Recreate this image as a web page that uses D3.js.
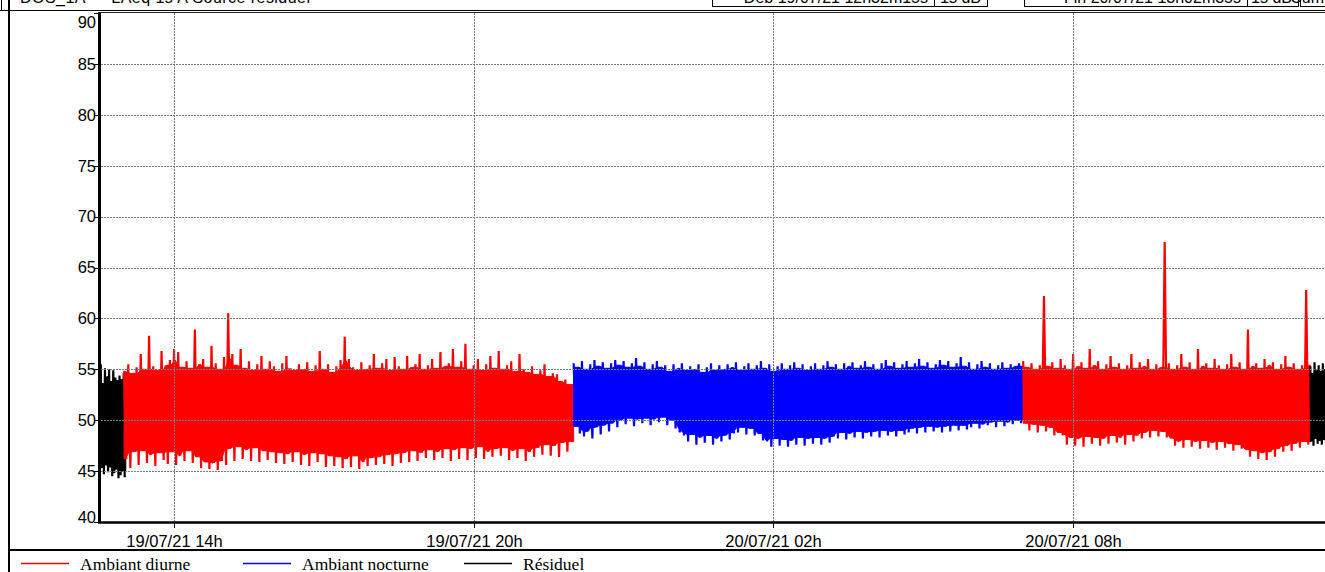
<!DOCTYPE html>
<html><head><meta charset="utf-8">
<script src="https://cdn.jsdelivr.net/npm/d3@7"></script>
<style>html,body{margin:0;padding:0;background:#fff;overflow:hidden}svg{display:block}</style>
</head><body>
<svg id="c" width="1325" height="572"></svg>
<script>
// ---------- data ----------
const yTicks = [40,45,50,55,60,65,70,75,80,85,90];
const xTickTimes = ["2021-07-19T14:00:00","2021-07-19T20:00:00","2021-07-20T02:00:00","2021-07-20T08:00:00"];
const xTickLabels = ["19/07/21 14h","19/07/21 20h","20/07/21 02h","20/07/21 08h"];
const xDomain = ["2021-07-19T12:32:15","2021-07-20T13:02:35"];
const legendLabels = ["Ambiant diurne","Ambiant nocturne","Résiduel"];
const headerLeft = "DOS_1A  —  LAeq 1s A   Source résiduel";
const headerRight = ["Déb 19/07/21 12h32m15s","1s dB","Fin 20/07/21 13h02m35s","1s dB","Cum"];

// Résiduel (before)
const residuel1Start = "2021-07-19T12:32:00", residuel1Step = 2.5;
const residuel1Hi = [55.5,53.6,55.1,54.3,55.0,53.8,54.9,54.2,53.9,54.4,54.0,54.6];
const residuel1Lo = [45.3,44.7,45.6,44.9,45.4,44.5,44.8,45.2,44.3,44.6,45.0,44.4];

// Ambiant diurne (day 1)
const diurne1Start = "2021-07-19T13:00:00", diurne1Step = 5;
const diurne1Hi = [54.8,55.5,54.6,55.2,56.5,55.0,58.3,55.3,54.9,56.8,
  55.4,55.9,57.0,56.7,55.2,55.8,55.1,58.9,55.5,56.0,
  55.2,57.3,55.6,55.0,56.2,60.5,56.5,55.4,57.0,55.1,
  55.8,54.9,55.5,56.3,55.0,55.8,55.3,54.8,55.6,56.3,
  55.1,54.9,55.5,55.0,55.7,54.8,55.4,56.8,55.0,55.5,
  54.7,55.3,55.9,58.2,56.0,55.2,54.9,55.7,55.0,55.4,
  56.5,55.1,55.6,56.0,54.9,56.2,55.3,55.0,56.3,55.2,
  55.5,56.5,55.0,55.4,56.0,55.1,56.7,55.3,55.6,57.0,
  55.2,55.8,57.5,55.0,55.4,56.0,54.9,55.5,56.3,55.1,
  56.8,55.0,55.4,55.8,54.8,56.5,55.0,54.7,55.3,54.5,
  54.9,55.5,54.3,54.6,54.5,53.8,54.0,53.5];
const diurne1Lo = [46.2,45.3,46.9,45.6,47.0,45.8,46.6,45.5,46.8,46.1,
  45.7,46.9,45.6,46.5,46.0,47.0,45.8,46.4,45.3,45.9,
  45.2,45.8,45.1,46.0,45.6,47.2,46.0,47.4,46.2,47.1,
  46.0,47.3,45.9,47.0,46.1,46.9,45.8,46.8,45.7,46.7,
  45.9,46.9,45.6,46.6,45.5,46.8,45.9,46.7,45.4,46.5,
  45.5,46.4,45.3,46.2,45.4,46.5,45.2,45.9,45.5,46.3,
  45.6,46.4,45.7,46.6,45.5,46.7,45.8,46.8,45.9,47.0,
  46.0,46.8,46.3,47.1,46.1,46.9,46.3,47.2,46.0,47.1,
  46.2,47.3,46.1,47.2,46.3,47.4,46.2,46.9,46.4,47.2,
  46.5,47.3,46.1,47.0,46.3,47.2,46.0,46.9,46.4,47.3,
  46.6,47.6,46.5,47.5,46.4,47.8,46.9,47.9];

// Ambiant nocturne
const nocturneStart = "2021-07-19T22:00:00", nocturneStep = 5;
const nocturneHi = [55.6,55.2,55.8,55.0,55.5,55.9,55.3,55.7,55.1,55.6,
  55.9,55.4,55.8,55.2,55.6,56.1,55.3,55.7,55.0,55.5,
  55.8,55.2,55.4,54.8,55.5,55.1,55.6,54.9,55.3,55.0,
  55.5,54.7,55.2,55.6,54.9,55.4,55.0,55.5,55.2,55.7,
  54.9,55.3,55.6,55.0,55.4,55.8,55.1,55.5,54.8,55.3,
  55.6,55.0,55.4,55.7,55.1,55.5,54.9,55.3,55.6,55.0,
  55.4,55.8,55.2,55.5,55.0,55.6,55.3,55.7,55.1,55.4,
  55.8,55.2,55.5,55.0,55.6,55.9,55.3,55.7,55.1,55.5,
  55.8,55.2,55.6,56.0,55.3,55.7,55.1,55.5,55.9,55.4,
  55.8,55.2,55.6,56.2,55.3,55.7,55.0,55.5,55.8,55.2,
  55.6,55.0,55.4,55.7,55.1,55.5,55.3,55.6];
const nocturneLo = [49.4,48.7,48.4,48.9,48.2,49.3,48.6,49.5,
  48.9,49.7,49.3,50.0,49.6,50.2,49.4,50.1,49.7,50.2,
  49.5,50.1,49.8,50.3,49.5,50.0,49.2,48.8,
  48.5,47.9,48.6,47.6,48.3,47.8,48.5,47.6,48.2,47.9,48.5,48.1,48.7,
  48.8,49.3,48.6,49.2,48.5,48.7,48.0,
  47.9,47.4,48.2,47.5,48.1,47.4,48.0,47.6,48.3,47.5,48.2,47.7,48.3,47.6,48.2,47.8,48.4,
  48.2,48.8,48.1,48.7,48.3,48.9,48.2,48.8,48.4,48.9,48.3,49.0,48.5,48.9,48.4,49.0,48.6,
  48.8,49.2,48.7,49.3,48.8,49.4,48.9,49.3,48.8,49.4,48.9,49.5,49.0,49.5,49.1,
  49.3,49.7,49.2,49.6,49.5,49.8,49.3,49.9,49.4,49.8,49.6,50.0,49.7];

// Ambiant diurne (day 2)
const diurne2Start = "2021-07-20T07:00:00", diurne2Step = 5;
const diurne2Hi = [55.8,55.2,55.6,55.0,55.4,62.2,55.3,55.7,55.1,56.0,
  55.4,55.0,56.5,55.3,55.7,55.1,57.0,55.4,55.8,55.0,
  55.5,56.3,55.2,55.6,55.0,55.4,56.5,55.1,55.7,55.3,
  56.0,55.0,55.5,55.2,67.5,55.6,55.0,55.4,56.5,55.2,
  55.7,55.0,57.0,55.3,55.6,55.1,56.0,55.4,55.0,55.5,
  56.5,55.2,55.7,55.0,58.9,55.3,55.6,55.1,56.0,55.4,
  55.7,55.0,55.5,56.3,55.2,55.6,55.0,55.4,62.8];
const diurne2Lo = [49.7,49.0,49.6,48.8,49.5,48.9,49.3,48.5,48.8,
  48.5,47.6,48.3,47.5,48.2,47.4,48.4,47.7,48.3,47.5,
  48.2,47.7,48.5,47.8,48.3,47.6,48.6,47.9,48.5,48.2,48.8,48.3,
  49.0,48.4,48.9,48.3,
  48.2,47.5,47.9,47.3,48.1,47.4,47.9,47.2,48.0,47.3,47.8,47.1,47.9,47.3,47.7,47.0,47.6,47.2,
  47.1,46.4,47.0,46.2,46.8,46.1,46.9,46.4,
  47.2,46.9,47.5,47.0,47.7,47.3,47.9,47.6];

// Résiduel (after)
const residuel2Start = "2021-07-20T12:45:00", residuel2Step = 2.5;
const residuel2Hi = [55.3,54.6,55.7,54.9,55.4,54.8,55.6,55.0,55.2];
const residuel2Lo = [47.9,47.5,48.2,47.7,48.0,47.6,48.1,47.8,47.9];

// ---------- drawing ----------
const W = 1325, H = 572;
const plot = {left: 101, right: 1325, top: 13, bottom: 522};
const colDiurne = "#ff0000", colNocturne = "#0000ff", colResiduel = "#000000";
const svg = d3.select("#c");
const parse = s => new Date(s);

const x = d3.scaleTime().domain(xDomain.map(parse)).range([plot.left, plot.right]);
const y = d3.scaleLinear().domain([40, 90]).range([plot.bottom, plot.top]);

function zig(start, stepMin, hi, lo) {
  const t0 = parse(start).getTime(), st = stepMin * 60000, pts = [];
  hi.forEach((v, i) => {
    pts.push({t: new Date(t0 + i * st), v: v});
    pts.push({t: new Date(t0 + (i + 0.5) * st), v: lo[i]});
  });
  return pts;
}
// solid core band: for each bin the lowest neighbouring peak and highest neighbouring trough
function core(start, stepMin, hi, lo) {
  const t0 = parse(start).getTime(), st = stepMin * 60000, n = hi.length;
  const pts = hi.map((v, i) => {
    const a = Math.max(0, i - 1), b = Math.min(n, i + 2);
    return {t: new Date(t0 + (i + 0.25) * st),
            top: d3.min(hi.slice(a, b)), bot: d3.max(lo.slice(a, b))};
  });
  pts.unshift({t: new Date(t0), top: pts[0].top, bot: pts[0].bot});
  pts.push({t: new Date(t0 + n * st), top: pts[pts.length - 1].top, bot: pts[pts.length - 1].bot});
  return pts;
}

svg.append("defs").append("clipPath").attr("id", "clip")
  .append("rect").attr("x", plot.left).attr("y", plot.top)
  .attr("width", plot.right - plot.left).attr("height", plot.bottom - plot.top);

const line = d3.line().x(d => x(d.t)).y(d => y(d.v));
const area = d3.area().x(d => x(d.t)).y0(d => y(d.bot)).y1(d => y(d.top));
const series = [
  {s: residuel1Start, st: residuel1Step, hi: residuel1Hi, lo: residuel1Lo, c: colResiduel},
  {s: diurne1Start, st: diurne1Step, hi: diurne1Hi, lo: diurne1Lo, c: colDiurne},
  {s: nocturneStart, st: nocturneStep, hi: nocturneHi, lo: nocturneLo, c: colNocturne},
  {s: diurne2Start, st: diurne2Step, hi: diurne2Hi, lo: diurne2Lo, c: colDiurne},
  {s: residuel2Start, st: residuel2Step, hi: residuel2Hi, lo: residuel2Lo, c: colResiduel}
];
const gData = svg.append("g").attr("clip-path", "url(#clip)");
series.forEach(s => {
  gData.append("path").attr("d", area(core(s.s, s.st, s.hi, s.lo)))
    .attr("fill", s.c).attr("stroke", s.c).attr("stroke-width", 1);
  gData.append("path").attr("d", line(zig(s.s, s.st, s.hi, s.lo)))
    .attr("fill", "none").attr("stroke", s.c).attr("stroke-width", 2.2)
    .attr("stroke-linejoin", "bevel");
});

// grid (on top of data)
const gGrid = svg.append("g").attr("stroke", "#7a7a7a").attr("stroke-width", 1)
  .attr("stroke-dasharray", "2,1").attr("fill", "none");
yTicks.forEach(v => {
  if (v === 40 || v === 90) return;
  gGrid.append("line").attr("x1", plot.left).attr("x2", plot.right)
    .attr("y1", Math.round(y(v)) + 0.5).attr("y2", Math.round(y(v)) + 0.5);
});
xTickTimes.forEach(t => {
  const px = Math.round(x(parse(t))) + 0.5;
  gGrid.append("line").attr("x1", px).attr("x2", px).attr("y1", plot.top).attr("y2", plot.bottom);
});

// axes
const gAx = svg.append("g");
gAx.append("line").attr("x1", 99.5).attr("x2", 99.5).attr("y1", plot.top - 1).attr("y2", plot.bottom + 1)
  .attr("stroke", "#000").attr("stroke-width", 3);
gAx.append("line").attr("x1", 98).attr("x2", W).attr("y1", plot.bottom + 0.5).attr("y2", plot.bottom + 0.5)
  .attr("stroke", "#000").attr("stroke-width", 2.5);
gAx.append("line").attr("x1", 98).attr("x2", W).attr("y1", plot.top - 0.5).attr("y2", plot.top - 0.5)
  .attr("stroke", "#222").attr("stroke-width", 1);

yTicks.forEach(v => {
  const py = y(v);
  gAx.append("line").attr("x1", 94).attr("x2", 99).attr("y1", Math.round(py) + 0.5).attr("y2", Math.round(py) + 0.5)
    .attr("stroke", "#000").attr("stroke-width", 1);
  const base = Math.min(Math.max(py + 5.8, 28.3), 522.8);
  gAx.append("text").attr("x", 96).attr("y", base).attr("text-anchor", "end")
    .attr("font-family", "Liberation Sans, Arial, sans-serif").attr("font-size", 16.5)
    .attr("fill", "#000").text(v);
});
xTickTimes.forEach((t, i) => {
  const px = Math.round(x(parse(t))) + 0.5;
  gAx.append("line").attr("x1", px).attr("x2", px).attr("y1", plot.bottom).attr("y2", plot.bottom + 6)
    .attr("stroke", "#000").attr("stroke-width", 1);
  gAx.append("text").attr("x", px).attr("y", 547).attr("text-anchor", "middle")
    .attr("font-family", "Liberation Sans, Arial, sans-serif").attr("font-size", 16.5)
    .attr("fill", "#000").text(xTickLabels[i]);
});

// frame & header
const gF = svg.append("g").attr("stroke", "#000").attr("fill", "none");
gF.append("line").attr("x1", 9).attr("x2", 9).attr("y1", 0).attr("y2", H).attr("stroke-width", 2);
gF.append("line").attr("x1", 1.5).attr("x2", 1.5).attr("y1", 0).attr("y2", 10).attr("stroke-width", 1);
gF.append("line").attr("x1", 0).attr("x2", W).attr("y1", 10.5).attr("y2", 10.5).attr("stroke-width", 1);
gF.append("line").attr("x1", 9).attr("x2", W).attr("y1", 550).attr("y2", 550).attr("stroke-width", 2);
const boxes = [[712, 934], [934, 987], [1024, 1247], [1247, 1298], [1300, 1330]];
boxes.forEach(b => gF.append("rect").attr("x", b[0] + 0.5).attr("y", -10).attr("width", b[1] - b[0])
  .attr("height", 16.5).attr("stroke-width", 1));
svg.append("text").attr("x", 20).attr("y", 3).attr("font-family", "Liberation Sans, Arial, sans-serif")
  .attr("font-size", 16).attr("textLength", 290).text(headerLeft);
headerRight.forEach((s, i) => {
  svg.append("text").attr("x", boxes[i][1] - 6).attr("y", 3).attr("text-anchor", "end")
    .attr("font-family", "Liberation Sans, Arial, sans-serif").attr("font-size", 16).text(s);
});

// legend
const legendColors = [colDiurne, colNocturne, colResiduel];
const legendX = [21, 243, 464];
legendLabels.forEach((lab, i) => {
  svg.append("line").attr("x1", legendX[i]).attr("x2", legendX[i] + 48).attr("y1", 563.5).attr("y2", 563.5)
    .attr("stroke", legendColors[i]).attr("stroke-width", 1.5);
  svg.append("text").attr("x", legendX[i] + 59).attr("y", 570).attr("font-family", "Liberation Serif, Times New Roman, serif")
    .attr("font-size", 17.5).attr("fill", "#000").text(lab);
});
</script>
</body></html>
